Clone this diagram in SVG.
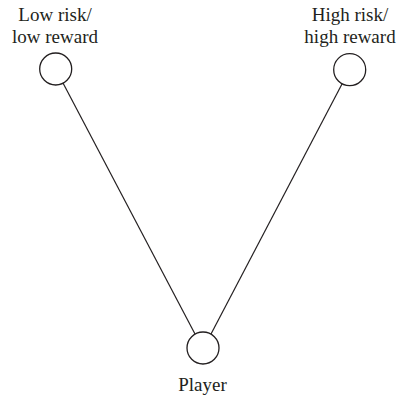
<svg xmlns="http://www.w3.org/2000/svg" width="399" height="397" viewBox="0 0 399 397">
<style>
.n{fill:#fff;stroke:#231f20;stroke-width:1.3}
.e{stroke:#231f20;stroke-width:1.2;fill:none}
text{font-family:"Liberation Serif",serif;font-size:19px;fill:#231f20;text-anchor:middle}
</style>
<rect width="399" height="397" fill="#fff"/>
<g id="connectors">
<line class="e" x1="63" y1="83" x2="195" y2="334"/>
<line class="e" x1="342" y1="84" x2="211" y2="334"/>
</g>
<g id="low">
<circle class="n" cx="55.7" cy="69" r="16"/>
<text x="55" y="21">Low risk/</text>
<text x="55" y="43">low reward</text>
</g>
<g id="high">
<circle class="n" cx="349.7" cy="69.7" r="16"/>
<text x="350" y="21">High risk/</text>
<text x="350" y="43">high reward</text>
</g>
<g id="player">
<circle class="n" cx="203" cy="348" r="16"/>
<text x="202.5" y="391">Player</text>
</g>
</svg>
